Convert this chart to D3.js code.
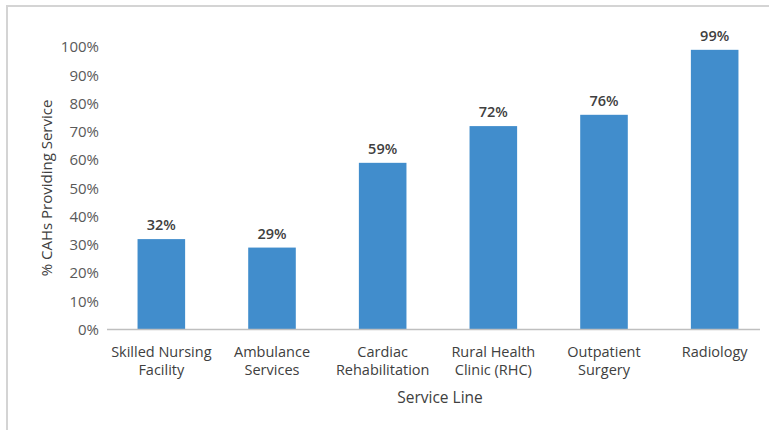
<!DOCTYPE html>
<html>
<head>
<meta charset="utf-8">
<script src="https://cdn.jsdelivr.net/npm/d3@7"></script>
<style>
  body { margin: 0; background: #fff; }
  text { font-family: "Open Sans", "DejaVu Sans", sans-serif; }
</style>
</head>
<body>
<div id="chart"></div>
<script>
// data
var categories = [
    ["Skilled Nursing", "Facility"],
    ["Ambulance", "Services"],
    ["Cardiac", "Rehabilitation"],
    ["Rural Health", "Clinic (RHC)"],
    ["Outpatient", "Surgery"],
    ["Radiology"]
];
var values = [32, 29, 59, 72, 76, 99];
var yTicks = [0, 10, 20, 30, 40, 50, 60, 70, 80, 90, 100];

var width = 769, height = 430;

//// SETTINGS /////////////////////////////////////////////////////////////
var plotLeft = 106, plotRight = 770,
    plotTop = 47, plotBottom = 329.5;
var barColor = "#418dcc";

var svg = d3.select("#chart").append("svg")
    .attr("width", width)
    .attr("height", height);

// frame line at top and left like the cropped screenshot
svg.append("path")
    .attr("d", "M7," + height + "V6H" + width)
    .attr("fill", "none")
    .attr("stroke", "#d4d4d4")
    .attr("stroke-width", 2);

var x = d3.scaleBand()
    .domain(d3.range(values.length))
    .range([plotLeft, plotRight])
    .paddingInner(0.57)
    .paddingOuter(0.285);

var y = d3.scaleLinear()
    .domain([0, 100])
    .range([plotBottom, plotTop]);

// y tick labels
var yAxis = svg.append("g")
    .attr("transform", "translate(99,0)")
    .call(d3.axisLeft(y).tickValues(yTicks).tickSize(0).tickPadding(0)
        .tickFormat(function(d) { return d + "%"; }));
yAxis.select(".domain").remove();
yAxis.selectAll("text")
    .attr("fill", "#595959")
    .style("font-size", "15px")
    .style("font-family", "'Open Sans', sans-serif");

// bars
svg.selectAll("rect.bar")
    .data(values)
    .enter().append("rect")
    .attr("class", "bar")
    .attr("x", function(d, i) { return x(i); })
    .attr("y", function(d) { return y(d); })
    .attr("width", x.bandwidth())
    .attr("height", function(d) { return y(0) - y(d); })
    .attr("fill", barColor);

// value labels
svg.selectAll("text.value")
    .data(values)
    .enter().append("text")
    .attr("class", "value")
    .attr("x", function(d, i) { return x(i) + x.bandwidth() / 2; })
    .attr("y", function(d) { return y(d) - 9; })
    .attr("text-anchor", "middle")
    .attr("fill", "#404040")
    .style("font-size", "14.5px")
    .style("font-weight", "600")
    .text(function(d) { return d + "%"; });

// x axis line
svg.append("line")
    .attr("x1", plotLeft + 1).attr("x2", 760)
    .attr("y1", y(0)).attr("y2", y(0))
    .attr("stroke", "#bfbfbf")
    .attr("stroke-width", 1.5);

// category labels, two lines each
var cat = svg.selectAll("text.cat")
    .data(categories)
    .enter().append("text")
    .attr("class", "cat")
    .attr("text-anchor", "middle")
    .attr("fill", "#404040")
    .style("font-size", "14.5px");

cat.selectAll("tspan")
    .data(function(d, i) { return d.map(function(s) { return { s: s, i: i }; }); })
    .enter().append("tspan")
    .attr("x", function(d) { return x(d.i) + x.bandwidth() / 2; })
    .attr("y", function(d, j) { return 357 + j * 18; })
    .text(function(d) { return d.s; });

// axis titles
svg.append("text")
    .attr("transform", "translate(52,188) rotate(-90)")
    .attr("text-anchor", "middle")
    .attr("fill", "#404040")
    .style("font-size", "15px")
    .text("% CAHs Providing Service");

svg.append("text")
    .attr("x", 440)
    .attr("y", 403)
    .attr("text-anchor", "middle")
    .attr("fill", "#404040")
    .style("font-size", "15.5px")
    .text("Service Line");
</script>
</body>
</html>
